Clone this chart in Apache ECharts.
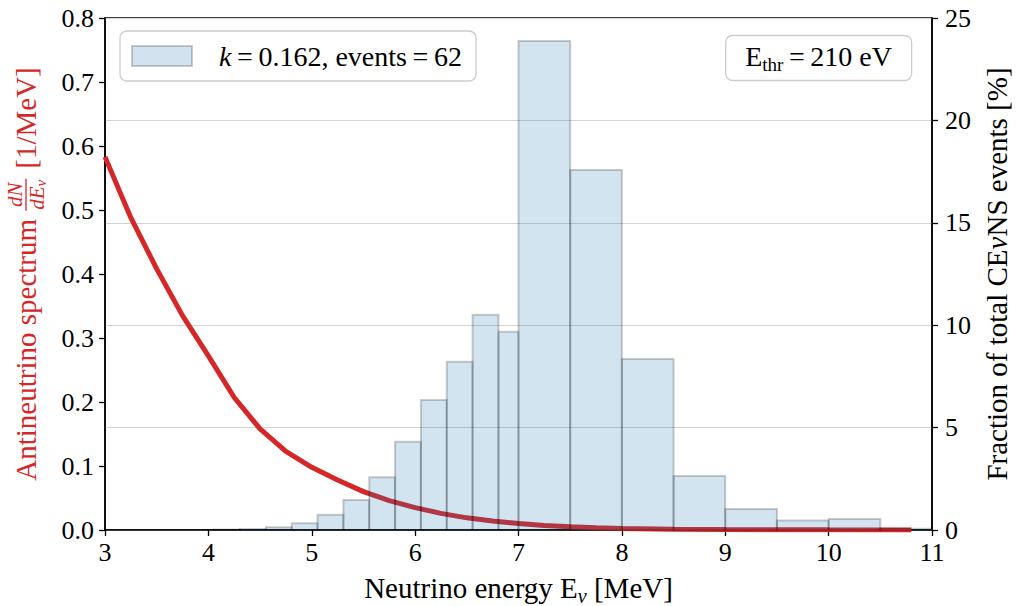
<!DOCTYPE html>
<html><head><meta charset="utf-8">
<script src="https://cdn.jsdelivr.net/npm/echarts@6/dist/echarts.min.js"></script>
<style>html,body{margin:0;padding:0;background:#fff}#c{width:1028px;height:606px}</style>
</head><body><div id="c"></div>
<script>
// ---- data ----
const binEdges = [4.056,4.306,4.556,4.806,5.056,5.306,5.556,5.806,6.056,6.306,6.556,6.806,7.0,7.5,8.0,8.5,9.0,9.5,10.0,10.5,11.0];
const binPercents = [0.02,0.05,0.13,0.33,0.75,1.46,2.57,4.31,6.35,8.22,10.51,9.68,23.88,17.58,8.35,2.64,1.03,0.46,0.54,0.06];
const spectrumE = [3.0,3.25,3.5,3.75,4.0,4.25,4.5,4.75,5.0,5.25,5.5,5.75,6.0,6.25,6.5,6.75,7.0,7.25,7.5,7.75,8.0,8.5,9.0,9.5,10.0,10.5,10.8];
const spectrumVal = [0.583,0.488,0.408,0.335,0.272,0.207,0.158,0.123,0.098,0.078,0.060,0.046,0.035,0.026,0.019,0.014,0.010,0.007,0.005,0.0035,0.0025,0.0013,0.0007,0.0004,0.0002,0.0001,0.0001];
const xRange = [3, 11], xStep = 1;
const leftRange = [0, 0.8], leftStep = 0.1;
const rightRange = [0, 25], rightStep = 5;
const legendLabel = ['k', '\u2009=\u20090.162, events\u2009=\u200962'];
const thrLabel = ['E', 'thr', '\u2009=\u2009210 eV'];
const xTitle = ['Neutrino energy E', 'ν', ' [MeV]'];
const leftTitle = ['Antineutrino spectrum ', 'dN', 'dE', 'ν', '[1/MeV]'];
const rightTitle = ['Fraction of total CE', 'ν', 'NS events [%]'];

const FONT = 'Liberation Serif';
const RED = '#d62728';
const TICK = 26, TITLE = 29, LEG = 28;
const FR = 21, FRS = 15;

const chart = echarts.init(document.getElementById('c'), null, {renderer: 'svg'});

const ctx = document.createElement('canvas').getContext('2d');
function tw(t, size, italic) { ctx.font = (italic ? 'italic ' : '') + size + 'px ' + FONT; return ctx.measureText(t).width; }

// left axis title built as a rotated group (fraction stacked)
const w1 = tw(leftTitle[0], TITLE, false);
const wNum = tw(leftTitle[1], FR, true);
const wDen = tw(leftTitle[2], FR, true) + tw(leftTitle[3], FRS, true);
const fracW = Math.max(wNum, wDen) + 4;
const w3 = tw(leftTitle[4], TITLE, false);
const gap = 9;
const total = w1 + fracW + gap + w3;
const cy = (18 + 530) / 2;

const leftGroup = {
  type: 'group', x: 26, y: cy + total / 2, rotation: Math.PI / 2,
  children: [
    {type: 'text', x: 0, y: 0, style: {text: leftTitle[0], font: 'normal ' + TITLE + 'px ' + FONT, fontFamily: FONT, fontSize: TITLE, fill: RED, textAlign: 'left', textVerticalAlign: 'middle'}},
    {type: 'text', x: w1 + fracW / 2, y: -11, style: {text: leftTitle[1], font: 'italic ' + FR + 'px ' + FONT, fontFamily: FONT, fontSize: FR, fontStyle: 'italic', fill: RED, textAlign: 'center', textVerticalAlign: 'middle'}},
    {type: 'line', shape: {x1: w1 + 1, y1: 0, x2: w1 + fracW - 1, y2: 0}, style: {stroke: RED, lineWidth: 1.3}},
    {type: 'text', x: w1 + fracW / 2 - wDen / 2, y: 11, style: {text: leftTitle[2], font: 'italic ' + FR + 'px ' + FONT, fontFamily: FONT, fontSize: FR, fontStyle: 'italic', fill: RED, textAlign: 'left', textVerticalAlign: 'middle'}},
    {type: 'text', x: w1 + fracW / 2 - wDen / 2 + tw(leftTitle[2], FR, true), y: 15, style: {text: leftTitle[3], font: 'italic ' + FRS + 'px ' + FONT, fontFamily: FONT, fontSize: FRS, fontStyle: 'italic', fill: RED, textAlign: 'left', textVerticalAlign: 'middle'}},
    {type: 'text', x: w1 + fracW + gap, y: 0, style: {text: leftTitle[4], font: 'normal ' + TITLE + 'px ' + FONT, fontFamily: FONT, fontSize: TITLE, fill: RED, textAlign: 'left', textVerticalAlign: 'middle'}}
  ]
};

const richBase = (size, color) => ({
  t: {fontFamily: FONT, fontSize: size, fontWeight: 'normal', color: color, lineHeight: 36, verticalAlign: 'middle'},
  i: {fontFamily: FONT, fontSize: size, fontWeight: 'normal', color: color, fontStyle: 'italic', lineHeight: 36, verticalAlign: 'middle'},
  s: {fontFamily: FONT, fontSize: Math.round(size * 0.68), fontWeight: 'normal', color: color, fontStyle: 'italic', verticalAlign: 'bottom', lineHeight: 10},
  sr: {fontFamily: FONT, fontSize: Math.round(size * 0.68), fontWeight: 'normal', color: color, verticalAlign: 'bottom', lineHeight: 10},
  k: {fontFamily: FONT, fontSize: size, fontWeight: 'normal', color: color, fontStyle: 'italic', padding: [0, 0, 0, 22], lineHeight: 36, verticalAlign: 'middle'}
});

const barData = binPercents.map((p, i) => [binEdges[i], binEdges[i + 1], p]);
const lineData = spectrumE.map((e, i) => [e, spectrumVal[i]]);

const axisLineStyle = {color: '#000', width: 1.5};

chart.setOption({
  animation: false,
  backgroundColor: '#fff',
  textStyle: {fontFamily: FONT},
  grid: {left: 105, right: 96, top: 18, bottom: 76, containLabel: false, outerBoundsMode: 'none', show: true, borderColor: '#000', borderWidth: 1.5, backgroundColor: 'transparent'},
  title: {
    text: '{t|' + thrLabel[0] + '}{sr|' + thrLabel[1] + '}{t|' + thrLabel[2] + '}',
    right: 116, top: 31,
    padding: [7, 20, 7, 20],
    borderColor: '#cccccc', borderWidth: 1.3, borderRadius: 7, backgroundColor: '#fff',
    textStyle: {fontFamily: FONT, fontWeight: 'normal', fontSize: LEG, rich: richBase(LEG, '#000')}
  },
  legend: {
    left: 120, top: 31,
    padding: [11, 14, 11, 11],
    borderColor: '#cccccc', borderWidth: 1.3, borderRadius: 7, backgroundColor: '#fff',
    itemWidth: 60, itemHeight: 20,
    data: [{name: 'hist', icon: 'rect', itemStyle: {color: 'rgb(210,226,238)', borderColor: 'rgba(0,0,0,0.2)', borderWidth: 2}}],
    formatter: () => '{k|' + legendLabel[0] + '}{t|' + legendLabel[1] + '}',
    textStyle: {fontFamily: FONT, fontSize: LEG, rich: richBase(LEG, '#000')}
  },
  xAxis: {
    type: 'value', min: xRange[0], max: xRange[1], interval: xStep,
    name: '{t|' + xTitle[0] + '}{s|' + xTitle[1] + '}{t|' + xTitle[2] + '}',
    nameLocation: 'middle', nameGap: 40,
    nameTextStyle: {fontFamily: FONT, fontSize: TITLE, rich: richBase(TITLE, '#000')},
    axisLine: {lineStyle: axisLineStyle},
    axisTick: {length: 6, lineStyle: {color: '#000', width: 1.3}},
    axisLabel: {color: '#000', fontFamily: FONT, fontSize: TICK, margin: 9},
    splitLine: {show: false}
  },
  yAxis: [
    {
      type: 'value', min: leftRange[0], max: leftRange[1], interval: leftStep, position: 'left',
      axisLine: {show: true, lineStyle: axisLineStyle},
      axisTick: {show: true, length: 6, lineStyle: {color: '#000', width: 1.3}},
      axisLabel: {color: '#000', fontFamily: FONT, fontSize: TICK, margin: 11, formatter: v => v.toFixed(1)},
      splitLine: {show: false}
    },
    {
      type: 'value', min: rightRange[0], max: rightRange[1], interval: rightStep, position: 'right',
      name: '{t|' + rightTitle[0] + '}{i|' + rightTitle[1] + '}{t|' + rightTitle[2] + '}',
      nameLocation: 'middle', nameGap: 47,
      nameTextStyle: {fontFamily: FONT, fontSize: TITLE, rich: richBase(TITLE, '#000')},
      axisLine: {show: true, lineStyle: axisLineStyle},
      axisTick: {show: true, length: 6, lineStyle: {color: '#000', width: 1.3}},
      axisLabel: {color: '#000', fontFamily: FONT, fontSize: TICK, margin: 13},
      splitLine: {show: true, lineStyle: {color: '#d3d3d3', width: 1.2}}
    }
  ],
  series: [
    {
      type: 'line', name: 'spectrum', yAxisIndex: 0, data: lineData,
      showSymbol: false, symbol: 'none', smooth: false, z: 2,
      lineStyle: {color: RED, width: 5}, itemStyle: {color: RED}
    },
    {
      type: 'custom', name: 'hist', yAxisIndex: 1, data: barData, z: 3,
      encode: {x: [0, 1], y: 2},
      itemStyle: {color: 'rgb(210,226,238)'},
      renderItem: (params, api) => {
        const p0 = api.coord([api.value(0), api.value(2)]);
        const p1 = api.coord([api.value(1), 0]);
        return {
          type: 'rect',
          shape: {x: p0[0], y: p0[1], width: p1[0] - p0[0], height: p1[1] - p0[1]},
          style: {fill: 'rgba(31,119,180,0.2)', stroke: 'rgba(0,0,0,0.2)', lineWidth: 2}
        };
      }
    }
  ],
  graphic: [leftGroup]
});
</script></body></html>
